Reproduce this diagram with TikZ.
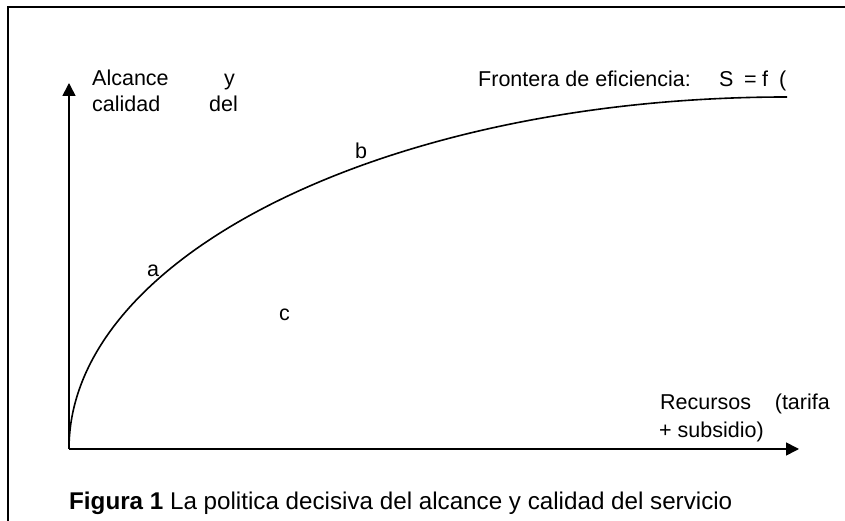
\documentclass[tikz,border=0pt]{standalone}
\usepackage{fontspec}
\setmainfont{Liberation Sans}
\usetikzlibrary{arrows.meta}
\begin{document}
\begin{tikzpicture}[x=1pt,y=1pt,
  lbl/.style={inner sep=0pt, font=\fontsize{21.5}{25}\selectfont},
  captext/.style={inner sep=0pt, font=\fontsize{24.2}{28}\selectfont},
  axisline/.style={line width=1.6pt, -{Triangle[length=13pt,width=13pt]}},
  frontier/.style={line width=1.6pt},
  framel/.style={line width=2pt}]
\useasboundingbox (0,0) rectangle (845,521);
% frame (only left and top sides visible)
\draw[framel] (8,0) -- (8,514) -- (845,514);
% axes
\coordinate (O) at (69,72);
\coordinate (ytip) at (69,438);
\coordinate (xtip) at (799,72);
\draw[axisline] (O) -- (ytip);
\draw[axisline] (O) -- (xtip);
% efficiency frontier (quarter ellipse)
\draw[frontier] (O) arc[start angle=180, end angle=90, x radius=718pt, y radius=352pt] coordinate (cend);
% axis labels
\node[lbl, anchor=base west] (ya1) at (92,435) {Alcance};
\node[lbl, anchor=base east] (ya2) at (235,435) {y};
\node[lbl, anchor=base west] (yb1) at (92,409) {calidad};
\node[lbl, anchor=base east] (yb2) at (238,409) {del};
\node[lbl, anchor=base west] (fr) at (478,434) {Frontera de eficiencia:};
\node[lbl, anchor=base west] (fS) at (719,434) {S};
\node[lbl, anchor=base west] (fEq) at (744,434) {=};
\node[lbl, anchor=base west] (fF) at (762,434) {f};
\node[lbl, anchor=base west] (fP) at (779,434) {(};
\node[lbl, anchor=base west] (pb) at (355,362) {b};
\node[lbl, anchor=base west] (pa) at (147,244) {a};
\node[lbl, anchor=base west] (pc) at (279,200) {c};
\node[lbl, anchor=base west] (xa1) at (660,111) {Recursos};
\node[lbl, anchor=base east] (xa2) at (830,111) {(tarifa};
\node[lbl, anchor=base west] (xb) at (659,83) {+ subsidio)};
% caption
\node[captext, anchor=base west] (caption) at (69,11) {\textbf{Figura 1} La politica decisiva del alcance y calidad del servicio};
\end{tikzpicture}
\end{document}
